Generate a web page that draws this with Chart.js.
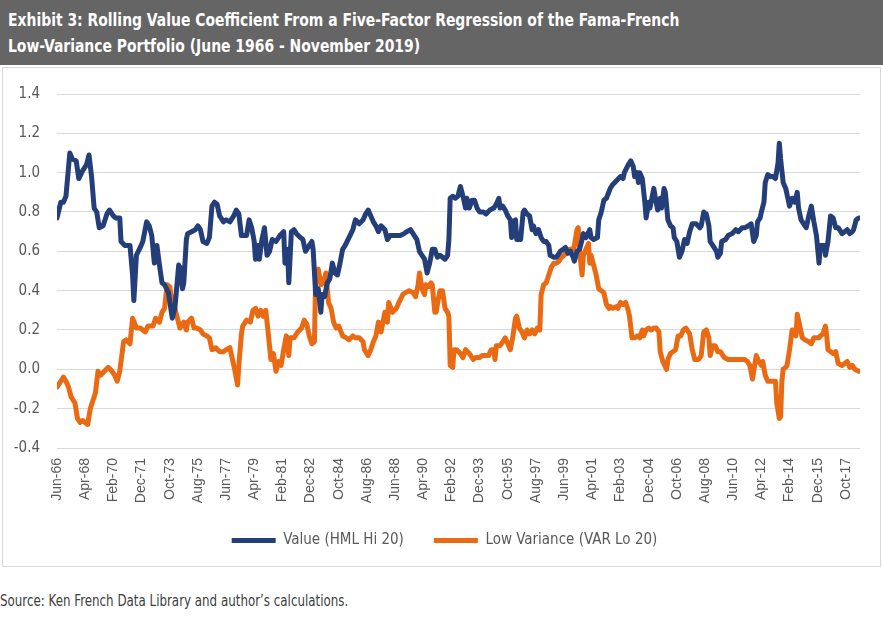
<!DOCTYPE html>
<html>
<head>
<meta charset="utf-8">
<script src="https://cdn.jsdelivr.net/npm/chart.js@4.4.0/dist/chart.umd.min.js"></script>
<style>
  body { margin: 0; width: 883px; height: 624px; background: #fff; overflow: hidden; position: relative;
         font-family: 'Liberation Sans Narrow', 'DejaVu Sans Condensed', sans-serif; }
  #title { position: absolute; left: 0; top: 0; width: 883px; height: 65px; background: #656565; }
  #title div { position: absolute; left: 8px; color: #fff; font-weight: bold; font-size: 18px; white-space: nowrap;
               transform: scaleX(0.86); transform-origin: left center; }
  #box { position: absolute; left: 2px; top: 67px; width: 879px; height: 500px; border: 1px solid #d9d9d9; box-sizing: border-box; }
  #source { position: absolute; left: 0; top: 592px; font-size: 15px; color: #404040; white-space: nowrap;
            transform: scaleX(0.88); transform-origin: left center; }
</style>
</head>
<body>
<div id="title">
  <div style="top: 9px;">Exhibit 3: Rolling Value Coefficient From a Five-Factor Regression of the Fama-French</div>
  <div style="top: 35px;">Low-Variance Portfolio (June 1966 - November 2019)</div>
</div>
<div id="box"><canvas id="chart" width="877" height="498"></canvas></div>
<div id="source">Source: Ken French Data Library and author’s calculations.</div>
<script>
// month offsets from Jun-66, labels every 22 months
const tickLabels = ['Jun-66', 'Apr-68', 'Feb-70', 'Dec-71', 'Oct-73', 'Aug-75', 'Jun-77', 'Apr-79', 'Feb-81', 'Dec-82',
    'Oct-84', 'Aug-86', 'Jun-88', 'Apr-90', 'Feb-92', 'Dec-93', 'Oct-95', 'Aug-97', 'Jun-99', 'Apr-01',
    'Feb-03', 'Dec-04', 'Oct-06', 'Aug-08', 'Jun-10', 'Apr-12', 'Feb-14', 'Dec-15', 'Oct-17'];
const tickStep = 22;
const lastMonth = 627;
const yTicks = [-0.4, -0.2, 0.0, 0.2, 0.4, 0.6, 0.8, 1.0, 1.2, 1.4];

// Value (HML Hi 20)
const valueMonths = [
    0, 3, 5, 7, 10, 12, 15, 17, 20, 23,
    25, 27, 29, 31, 33, 36, 39, 41, 44, 46,
    49, 50, 53, 57, 59, 60, 62, 65, 67, 70,
    72, 74, 76, 78, 80, 82, 84, 87, 90, 92,
    93, 95, 96, 98, 99, 101, 102, 105, 108, 110,
    112, 114, 117, 119, 121, 123, 125, 127, 130, 132,
    135, 138, 140, 142, 144, 145, 148, 150, 152, 154,
    155, 157, 158, 160, 162, 164, 166, 168, 171, 174,
    177, 178, 180, 181, 183, 185, 187, 190, 192, 194,
    197, 199, 200, 202, 204, 206, 207, 209, 211, 213,
    215, 217, 219, 221, 223, 225, 228, 231, 233, 236,
    239, 241, 243, 245, 247, 249, 251, 253, 256, 258,
    260, 263, 266, 268, 271, 273, 276, 278, 281, 283,
    285, 287, 289, 291, 293, 295, 297, 299, 301, 303,
    305, 306, 307, 309, 311, 313, 315, 317, 319, 320,
    322, 324, 326, 328, 330, 333, 335, 338, 341, 343,
    345, 346, 348, 350, 352, 354, 355, 356, 358, 359,
    360, 362, 364, 365, 367, 369, 371, 372, 374, 376,
    378, 380, 382, 384, 385, 388, 390, 393, 395, 397,
    399, 401, 403, 404, 406, 408, 410, 411, 413, 416,
    417, 419, 422, 423, 425, 427, 429, 432, 434, 437,
    440, 442, 443, 446, 448, 450, 451, 453, 454, 455,
    457, 459, 460, 462, 463, 466, 467, 469, 471, 472,
    474, 475, 477, 479, 481, 482, 484, 486, 488, 490,
    492, 494, 496, 499, 502, 503, 505, 506, 507, 509,
    510, 512, 515, 516, 518, 519, 522, 524, 527, 530,
    532, 535, 537, 540, 542, 544, 546, 547, 549, 550,
    552, 553, 555, 557, 559, 561, 563, 564, 565, 567,
    569, 570, 572, 574, 576, 578, 579, 581, 583, 585,
    587, 589, 591, 593, 595, 596, 599, 600, 602, 604,
    606, 608, 610, 613, 615, 617, 619, 621, 622, 624,
    626, 627];
const valueCoef = [
    0.77, 0.85, 0.85, 0.88, 1.10, 1.07, 1.06, 0.97, 1.01, 1.04,
    1.09, 0.98, 0.82, 0.80, 0.72, 0.73, 0.79, 0.81, 0.78, 0.77,
    0.77, 0.65, 0.63, 0.63, 0.48, 0.35, 0.58, 0.62, 0.65, 0.75,
    0.73, 0.68, 0.54, 0.63, 0.53, 0.44, 0.43, 0.39, 0.26, 0.31,
    0.38, 0.53, 0.52, 0.41, 0.44, 0.66, 0.69, 0.70, 0.71, 0.73,
    0.71, 0.65, 0.64, 0.67, 0.83, 0.85, 0.84, 0.78, 0.75, 0.76,
    0.75, 0.78, 0.81, 0.79, 0.68, 0.68, 0.68, 0.76, 0.72, 0.65,
    0.56, 0.63, 0.56, 0.66, 0.72, 0.58, 0.60, 0.66, 0.65, 0.68,
    0.70, 0.54, 0.61, 0.44, 0.70, 0.71, 0.69, 0.67, 0.66, 0.60,
    0.63, 0.65, 0.61, 0.38, 0.41, 0.29, 0.38, 0.37, 0.44, 0.46,
    0.54, 0.49, 0.48, 0.54, 0.61, 0.63, 0.67, 0.71, 0.76, 0.74,
    0.76, 0.79, 0.81, 0.78, 0.75, 0.73, 0.70, 0.73, 0.71, 0.66,
    0.68, 0.68, 0.68, 0.68, 0.69, 0.70, 0.71, 0.69, 0.66, 0.60,
    0.58, 0.56, 0.49, 0.54, 0.61, 0.61, 0.57, 0.58, 0.57, 0.56,
    0.58, 0.66, 0.87, 0.88, 0.87, 0.88, 0.93, 0.88, 0.82, 0.87,
    0.82, 0.86, 0.86, 0.82, 0.80, 0.80, 0.79, 0.81, 0.82, 0.84,
    0.87, 0.82, 0.83, 0.81, 0.78, 0.76, 0.67, 0.75, 0.76, 0.66,
    0.66, 0.66, 0.80, 0.81, 0.79, 0.78, 0.71, 0.73, 0.69, 0.71,
    0.67, 0.65, 0.65, 0.63, 0.58, 0.57, 0.57, 0.60, 0.61, 0.62,
    0.59, 0.60, 0.57, 0.55, 0.60, 0.61, 0.66, 0.69, 0.67, 0.71,
    0.67, 0.66, 0.67, 0.76, 0.80, 0.86, 0.87, 0.92, 0.94, 0.96,
    0.98, 0.97, 1.00, 1.04, 1.06, 1.03, 0.98, 1.00, 0.95, 1.00,
    0.97, 0.85, 0.77, 0.85, 0.82, 0.92, 0.88, 0.81, 0.87, 0.82,
    0.92, 0.90, 0.76, 0.73, 0.72, 0.67, 0.65, 0.57, 0.60, 0.66,
    0.64, 0.70, 0.74, 0.74, 0.72, 0.73, 0.80, 0.78, 0.79, 0.73,
    0.65, 0.63, 0.60, 0.57, 0.59, 0.65, 0.66, 0.68, 0.69, 0.71,
    0.70, 0.72, 0.72, 0.73, 0.74, 0.65, 0.68, 0.75, 0.77, 0.80,
    0.85, 0.95, 0.99, 0.98, 0.98, 0.97, 1.05, 1.15, 1.07, 0.95,
    0.92, 0.89, 0.83, 0.87, 0.85, 0.90, 0.82, 0.76, 0.74, 0.72,
    0.78, 0.83, 0.75, 0.68, 0.54, 0.63, 0.63, 0.58, 0.65, 0.78,
    0.77, 0.72, 0.72, 0.69, 0.70, 0.71, 0.69, 0.70, 0.71, 0.76,
    0.77, 0.77];

// Low Variance (VAR Lo 20)
const lowVarMonths = [
    0, 2, 5, 7, 9, 11, 14, 16, 18, 20,
    22, 24, 26, 28, 30, 32, 34, 37, 40, 43,
    45, 47, 49, 52, 54, 57, 59, 62, 65, 69,
    71, 75, 77, 80, 82, 84, 86, 88, 89, 91,
    92, 94, 96, 99, 101, 102, 105, 107, 109, 112,
    114, 117, 119, 121, 124, 127, 130, 132, 135, 137,
    139, 141, 142, 144, 145, 148, 151, 153, 155, 157,
    159, 161, 163, 165, 167, 169, 171, 173, 175, 177,
    179, 181, 182, 185, 188, 191, 193, 195, 197, 199,
    201, 202, 204, 206, 208, 210, 212, 214, 216, 218,
    220, 223, 226, 228, 231, 233, 236, 239, 240, 243,
    245, 247, 249, 251, 253, 256, 258, 259, 262, 265,
    267, 270, 272, 275, 278, 280, 282, 283, 285, 287,
    288, 290, 292, 293, 295, 296, 297, 299, 301, 303,
    305, 306, 307, 309, 310, 312, 315, 317, 319, 322,
    325, 327, 330, 332, 335, 337, 339, 341, 342, 343,
    346, 348, 350, 352, 354, 356, 358, 359, 361, 363,
    365, 367, 369, 371, 373, 375, 377, 378, 380, 382,
    384, 386, 388, 390, 392, 394, 396, 398, 400, 401,
    403, 404, 406, 407, 408, 410, 411, 413, 415, 416,
    417, 419, 421, 423, 425, 427, 429, 431, 432, 434,
    437, 438, 440, 442, 444, 446, 447, 449, 451, 453,
    455, 457, 458, 460, 462, 464, 466, 468, 470, 471,
    473, 476, 477, 479, 481, 483, 485, 487, 489, 491,
    493, 494, 496, 498, 501, 503, 505, 507, 509, 510,
    512, 514, 516, 518, 521, 524, 526, 529, 531, 534,
    537, 539, 541, 543, 544, 546, 548, 550, 551, 553,
    555, 557, 559, 561, 562, 564, 565, 566, 567, 569,
    570, 572, 574, 576, 577, 578, 580, 582, 584, 587,
    589, 591, 593, 595, 596, 598, 600, 601, 602, 604,
    606, 608, 610, 613, 615, 617, 619, 621, 623, 626,
    627];
const lowVarCoef = [
    -0.09, -0.07, -0.04, -0.06, -0.09, -0.14, -0.17, -0.25, -0.27, -0.26,
    -0.27, -0.28, -0.20, -0.16, -0.12, -0.01, -0.03, -0.01, 0.01, -0.01,
    -0.03, -0.06, -0.01, 0.14, 0.15, 0.13, 0.26, 0.21, 0.21, 0.19,
    0.22, 0.22, 0.26, 0.24, 0.29, 0.31, 0.43, 0.42, 0.38, 0.34,
    0.31, 0.26, 0.21, 0.24, 0.20, 0.24, 0.26, 0.21, 0.21, 0.20,
    0.18, 0.17, 0.16, 0.10, 0.11, 0.09, 0.09, 0.10, 0.11, 0.05,
    -0.01, -0.08, 0.02, 0.18, 0.22, 0.25, 0.24, 0.30, 0.31, 0.27,
    0.30, 0.27, 0.30, 0.18, 0.05, 0.08, -0.01, 0.04, 0.02, 0.10,
    0.17, 0.07, 0.16, 0.16, 0.19, 0.21, 0.25, 0.23, 0.17, 0.13,
    0.14, 0.48, 0.51, 0.43, 0.44, 0.49, 0.34, 0.31, 0.24, 0.21,
    0.22, 0.17, 0.16, 0.15, 0.17, 0.16, 0.16, 0.14, 0.10, 0.07,
    0.10, 0.14, 0.17, 0.24, 0.19, 0.29, 0.24, 0.34, 0.29, 0.31,
    0.34, 0.38, 0.39, 0.40, 0.39, 0.37, 0.43, 0.49, 0.41, 0.38,
    0.43, 0.42, 0.44, 0.43, 0.29, 0.29, 0.33, 0.40, 0.40, 0.31,
    0.29, 0.27, 0.02, 0.01, 0.10, 0.10, 0.08, 0.06, 0.10, 0.08,
    0.05, 0.06, 0.06, 0.07, 0.07, 0.07, 0.10, 0.10, 0.05, 0.12,
    0.12, 0.14, 0.16, 0.13, 0.10, 0.17, 0.26, 0.27, 0.21, 0.19,
    0.16, 0.20, 0.18, 0.20, 0.18, 0.21, 0.20, 0.38, 0.43, 0.44,
    0.48, 0.52, 0.54, 0.54, 0.55, 0.57, 0.58, 0.60, 0.61, 0.61,
    0.61, 0.63, 0.71, 0.72, 0.60, 0.48, 0.58, 0.61, 0.64, 0.54,
    0.58, 0.53, 0.48, 0.41, 0.40, 0.39, 0.33, 0.31, 0.32, 0.31,
    0.32, 0.31, 0.34, 0.33, 0.34, 0.30, 0.27, 0.16, 0.16, 0.17,
    0.16, 0.20, 0.17, 0.20, 0.21, 0.20, 0.21, 0.21, 0.19, 0.09,
    0.04, 0.00, 0.05, 0.08, 0.09, 0.10, 0.17, 0.17, 0.20, 0.21,
    0.19, 0.18, 0.10, 0.05, 0.05, 0.07, 0.19, 0.20, 0.16, 0.07,
    0.12, 0.12, 0.09, 0.09, 0.06, 0.05, 0.05, 0.05, 0.05, 0.05,
    0.05, 0.04, 0.02, -0.05, -0.01, 0.07, 0.04, 0.02, 0.04, -0.03,
    -0.06, -0.06, -0.06, -0.06, -0.17, -0.25, -0.24, -0.06, 0.00, 0.01,
    0.02, 0.10, 0.20, 0.20, 0.17, 0.28, 0.22, 0.16, 0.15, 0.14,
    0.13, 0.16, 0.16, 0.16, 0.17, 0.18, 0.22, 0.17, 0.10, 0.09,
    0.08, 0.09, 0.03, 0.02, 0.03, 0.04, 0.01, 0.02, 0.00, -0.01,
    -0.01];

const narrowFont = "'Liberation Sans Narrow', 'DejaVu Sans Condensed', sans-serif";
const textColor = '#595959';

function toPoints(months, values) {
    return months.map((m, i) => ({ x: m, y: values[i] }));
}

function makeSeries(label, months, values, color) {
    return {
        label: label,
        data: toPoints(months, values),
        borderColor: color,
        backgroundColor: color,
        borderWidth: 5,
        borderCapStyle: 'round',
        borderJoinStyle: 'round',
        pointRadius: 0,
        pointStyle: 'line',
        tension: 0
    };
}

// nudge the legend so it sits where the original one does
const legendShift = {
    id: 'legendShift',
    afterLayout(chart) {
        chart.legend.left += 13;
        chart.legend.right += 13;
    }
};

new Chart(document.getElementById('chart'), {
    type: 'line',
    data: {
        datasets: [
            makeSeries('Value (HML Hi 20)', valueMonths, valueCoef, '#233e78'),
            makeSeries('Low Variance (VAR Lo 20)', lowVarMonths, lowVarCoef, '#e96a12')
        ]
    },
    plugins: [legendShift],
    options: {
        responsive: false,
        animation: false,
        layout: { padding: { top: 24, right: 20, bottom: 8, left: 0 } },
        plugins: {
            tooltip: { enabled: false },
            legend: {
                position: 'bottom',
                labels: {
                    usePointStyle: true,
                    pointStyleWidth: 44,
                    boxHeight: 5,
                    padding: 30,
                    color: textColor,
                    font: { family: narrowFont, size: 15 }
                }
            }
        },
        scales: {
            x: {
                type: 'linear',
                min: 0,
                max: lastMonth,
                grid: { display: false, drawTicks: false },
                border: { display: false },
                afterBuildTicks: (scale) => {
                    scale.ticks = tickLabels.map((t, i) => ({ value: i * tickStep }));
                },
                afterFit: (scale) => { scale.height = 55; },
                ticks: {
                    autoSkip: false,
                    minRotation: 90,
                    maxRotation: 90,
                    padding: 10,
                    color: textColor,
                    font: { family: "'Liberation Sans', Arial, sans-serif", size: 14 },
                    callback: (value, index) => tickLabels[index]
                }
            },
            y: {
                min: -0.4,
                max: 1.4,
                afterBuildTicks: (scale) => {
                    scale.ticks = yTicks.map(v => ({ value: v }));
                },
                afterFit: (scale) => { scale.width = 54; },
                grid: { color: '#d9d9d9', lineWidth: 1, drawTicks: false },
                border: { display: false },
                ticks: {
                    padding: 17,
                    color: textColor,
                    font: { family: narrowFont, size: 15 },
                    callback: (value) => value.toFixed(1)
                }
            }
        }
    }
});
</script>
</body>
</html>
